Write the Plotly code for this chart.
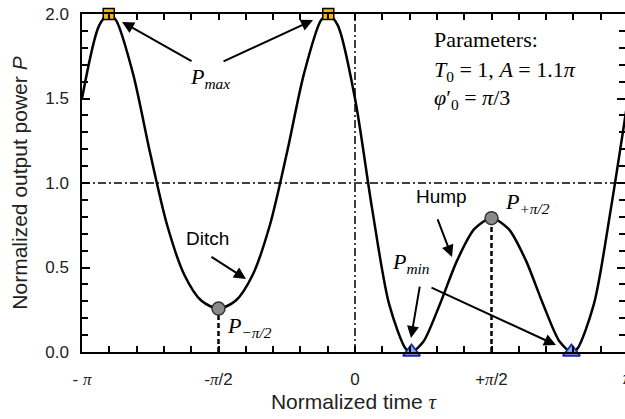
import plotly.graph_objects as go

PI = 3.141592653589793

# Curve: normalized time tau and output power P
tau = [-3.1416, -2.9452, -2.834, -2.7489, -2.5525, -2.3562, -2.1598, -1.9635, -1.7671,
       -1.5708, -1.3744, -1.1781, -0.9817, -0.7854, -0.5890, -0.3927, -0.308, -0.1963,
       0.0, 0.1963, 0.3927, 0.5890, 0.651, 0.7854, 0.9817, 1.1781, 1.3744, 1.5708,
       1.7671, 1.9635, 2.1598, 2.3562, 2.491, 2.5525, 2.7489, 2.9452, 3.1416]
power = [1.500, 1.931, 2.000, 1.962, 1.643, 1.174, 0.747, 0.456, 0.303,
         0.257, 0.303, 0.456, 0.747, 1.174, 1.643, 1.962, 2.000, 1.931,
         1.500, 0.850, 0.283, 0.015, 0.000, 0.060, 0.289, 0.545, 0.728, 0.792,
         0.728, 0.545, 0.289, 0.060, 0.000, 0.015, 0.283, 0.850, 1.500]

# Special points
pmax_tau = [-2.834, -0.308]
pmax_val = [2.0, 2.0]
pmid_tau = [-PI / 2, PI / 2]
pmid_val = [0.257, 0.792]
pmin_tau = [0.651, 2.491]
pmin_val = [0.0, 0.0]

x_tickvals = [-PI, -PI / 2, 0, PI / 2]
SERIF = "Liberation Serif"
SANS = "Liberation Sans"
x_ticktext = [
    "- <span style='font-family:Liberation Serif'><i>π</i></span>",
    "-<span style='font-family:Liberation Serif'><i>π</i></span>/2",
    "0",
    "+<span style='font-family:Liberation Serif'><i>π</i></span>/2",
]

fig = go.Figure()

# reference dash-dot lines
fig.add_trace(go.Scatter(x=[-PI, PI], y=[1, 1], mode="lines", yaxis="y2",
                         line=dict(color="black", width=1.5, dash="8px,3px,2px,3px"),
                         hoverinfo="skip", showlegend=False))
fig.add_trace(go.Scatter(x=[0, 0], y=[0, 2], mode="lines",
                         line=dict(color="black", width=1.5, dash="8px,3px,2px,3px"),
                         hoverinfo="skip", showlegend=False))
# dashed drop lines
for t, v in zip(pmid_tau, pmid_val):
    fig.add_trace(go.Scatter(x=[t, t], y=[0, v], mode="lines",
                             line=dict(color="black", width=2.5, dash="5px,3px"),
                             hoverinfo="skip", showlegend=False))

fig.add_trace(go.Scatter(x=tau, y=power, mode="lines",
                         line=dict(color="black", width=2.5, shape="spline", smoothing=0.8),
                         showlegend=False))

fig.add_trace(go.Scatter(x=pmax_tau, y=pmax_val, mode="markers", cliponaxis=False,
                         marker=dict(symbol="square", size=11, color="#F7B900",
                                     line=dict(color="black", width=1.5)),
                         showlegend=False))
fig.add_trace(go.Scatter(x=pmid_tau, y=pmid_val, mode="markers", cliponaxis=False,
                         marker=dict(symbol="circle", size=13, color="#8a8a8a",
                                     line=dict(color="#333333", width=1.5)),
                         showlegend=False))
fig.add_trace(go.Scatter(x=pmin_tau, y=pmin_val, mode="markers", cliponaxis=False,
                         marker=dict(symbol="triangle-up", size=15, color="#86A8F0",
                                     line=dict(color="#1c2aa0", width=1.8)),
                         showlegend=False))

def arrow(t0, p0, t1, p1):
    fig.add_annotation(x=t1, y=p1, ax=t0, ay=p0, xref="x", yref="y", axref="x", ayref="y",
                       text="", showarrow=True, arrowhead=2, arrowsize=1.2,
                       arrowwidth=2, arrowcolor="black")

arrow(-1.864, 1.716, -2.681, 1.953)
arrow(-1.530, 1.716, -0.483, 1.964)
arrow(-1.669, 0.568, -1.254, 0.432)
arrow(0.944, 0.793, 1.116, 0.562)
arrow(0.748, 0.396, 0.644, 0.083)
arrow(0.863, 0.385, 2.313, 0.041)

def label(t, p, text, family=SERIF, size=22, xanchor="center"):
    fig.add_annotation(x=t, y=p, xref="x", yref="y", text=text, showarrow=False,
                       xanchor=xanchor, yanchor="middle",
                       font=dict(family=family, size=size, color="black"))

label(-1.669, 1.621, "<i>P</i><sub><i>max</i></sub>")
label(0.886, 1.850, "Parameters:", xanchor="left")
label(0.886, 1.665, "<i>T</i><sub>0</sub> = 1, <i>A</i> = 1.1<i>π</i>", xanchor="left")
label(0.886, 1.500, "<i>φ</i>′<sub>0</sub> = <i>π</i>/3", xanchor="left")
label(-1.692, 0.669, "Ditch", family=SANS, size=19)
label(-1.210, 0.148, "<i>P</i><sub><i>−π/2</i></sub>")
label(0.990, 0.923, "Hump", family=SANS, size=19)
label(1.985, 0.882, "<i>P</i><sub><i>+π/2</i></sub>")
label(0.644, 0.527, "<i>P</i><sub><i>min</i></sub>")

# partially visible pi tick label at the right edge
fig.add_annotation(x=1.005, y=-0.078, xref="paper", yref="paper", text="<i>π</i>",
                   showarrow=False, xanchor="center", yanchor="middle",
                   font=dict(family=SERIF, size=18, color="black"))

axis_font = dict(family=SANS, size=17, color="#222222")

fig.update_layout(
    width=625, height=419,
    margin=dict(l=82, r=0, t=14, b=67),
    paper_bgcolor="white", plot_bgcolor="white",
    showlegend=False,
    xaxis=dict(range=[-PI, 3.107], showgrid=False, zeroline=False,
               showline=True, linecolor="black", linewidth=1.5, mirror="ticks",
               ticks="inside", ticklen=6, tickwidth=1.5, tickcolor="black",
               tickvals=x_tickvals, ticktext=x_ticktext, tickfont=axis_font,
               ticklabelstandoff=11,
               minor=dict(tick0=-PI, dtick=PI / 10, ticks="inside", ticklen=6,
                          tickwidth=1.5, tickcolor="black"),
               title=dict(text="Normalized time <span style='font-family:Liberation Serif'><i>τ</i></span>",
                          font=dict(family=SANS, size=21, color="#222222"),
                          standoff=6),
               automargin=False),
    yaxis=dict(range=[0, 2], showgrid=False, zeroline=False,
               showline=True, linecolor="black", linewidth=1.5,
               ticks="inside", ticklen=8, tickwidth=1.5, tickcolor="black",
               tick0=0, dtick=0.5, tickformat=".1f", tickfont=axis_font,
               ticklabelstandoff=8,
               minor=dict(dtick=0.1, ticks="inside", ticklen=6, tickwidth=1.5,
                          tickcolor="black"),
               title=dict(text="Normalized output power <i>P</i>",
                          font=dict(family=SANS, size=21, color="#222222"),
                          standoff=12),
               automargin=False),
    yaxis2=dict(range=[0, 2], overlaying="y", side="right", anchor="x",
                showgrid=False, zeroline=False, showline=False, showticklabels=False,
                ticks="inside", ticklen=8, tickwidth=1.5, tickcolor="black",
                tick0=0, dtick=0.5,
                minor=dict(dtick=0.1, ticks="inside", ticklen=6, tickwidth=1.5,
                           tickcolor="black")),
)

fig.write_html("out.html")
